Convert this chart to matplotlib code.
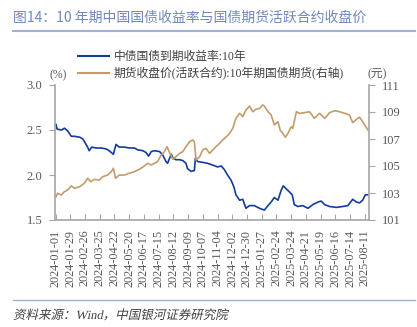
import numpy as np
import pandas as pd
import matplotlib
matplotlib.use("Agg")
import matplotlib.pyplot as plt
import matplotlib.dates as mdates
from matplotlib.lines import Line2D
from matplotlib.textpath import TextPath
from matplotlib.patches import PathPatch
from matplotlib.font_manager import FontProperties
from matplotlib.transforms import Affine2D, IdentityTransform

plt.rcParams['font.family'] = ['Liberation Serif', 'Noto Sans CJK SC', 'DejaVu Sans']

# 10Y China government bond yield (%)
yield_dates = ["2024-01-02", "2024-01-04", "2024-01-12", "2024-01-18", "2024-01-24", "2024-01-31",
               "2024-02-06", "2024-02-16", "2024-02-22", "2024-02-27", "2024-03-02", "2024-03-05",
               "2024-03-10", "2024-03-18", "2024-03-28", "2024-04-06", "2024-04-12", "2024-04-20",
               "2024-04-25", "2024-05-01", "2024-05-11", "2024-05-20", "2024-05-30", "2024-06-05",
               "2024-06-15", "2024-06-21", "2024-06-26", "2024-07-01", "2024-07-07", "2024-07-17",
               "2024-07-23", "2024-07-29", "2024-08-01", "2024-08-08", "2024-08-11", "2024-08-17",
               "2024-08-24", "2024-08-30", "2024-09-05", "2024-09-08", "2024-09-15", "2024-09-21",
               "2024-09-23", "2024-09-27", "2024-10-07", "2024-10-16", "2024-10-26", "2024-11-04",
               "2024-11-11", "2024-11-17", "2024-11-23", "2024-11-30", "2024-12-05", "2024-12-09",
               "2024-12-16", "2024-12-22", "2024-12-28", "2025-01-04", "2025-01-13", "2025-01-23",
               "2025-02-01", "2025-02-08", "2025-02-14", "2025-02-20", "2025-02-27", "2025-03-05",
               "2025-03-09", "2025-03-14", "2025-03-21", "2025-03-26", "2025-03-30", "2025-04-06",
               "2025-04-15", "2025-04-25", "2025-05-04", "2025-05-14", "2025-05-20", "2025-05-27",
               "2025-06-05", "2025-06-18", "2025-06-30", "2025-07-10", "2025-07-19", "2025-07-26",
               "2025-08-01", "2025-08-07", "2025-08-12", "2025-08-17"]
yield_vals = [2.56, 2.51, 2.50, 2.52, 2.49, 2.43,
              2.43, 2.42, 2.40, 2.35, 2.31, 2.27,
              2.31, 2.30, 2.30, 2.29, 2.27, 2.23,
              2.34, 2.31, 2.31, 2.30, 2.30, 2.28,
              2.27, 2.25, 2.21, 2.26, 2.27, 2.26,
              2.22, 2.15, 2.13, 2.23, 2.19, 2.17,
              2.17, 2.16, 2.13, 2.07, 2.04, 2.05,
              2.19, 2.15, 2.14, 2.13, 2.11, 2.09,
              2.10, 2.06, 2.00, 1.94, 1.87, 1.78,
              1.72, 1.73, 1.63, 1.66, 1.66, 1.63,
              1.61, 1.66, 1.70, 1.75, 1.72, 1.83,
              1.88, 1.85, 1.81, 1.78, 1.67, 1.65,
              1.66, 1.63, 1.67, 1.70, 1.71, 1.67,
              1.65, 1.64, 1.65, 1.66, 1.73, 1.70,
              1.69, 1.72, 1.78, 1.78]

# 10Y treasury futures, active contract close (CNY)
fut_dates = ["2024-01-02", "2024-01-05", "2024-01-12", "2024-01-18", "2024-01-24", "2024-01-31",
             "2024-02-06", "2024-02-16", "2024-02-25", "2024-03-02", "2024-03-08", "2024-03-15",
             "2024-03-24", "2024-03-31", "2024-04-09", "2024-04-16", "2024-04-20", "2024-04-24",
             "2024-05-01", "2024-05-11", "2024-05-20", "2024-05-30", "2024-06-08", "2024-06-18",
             "2024-06-24", "2024-07-01", "2024-07-07", "2024-07-13", "2024-07-20", "2024-07-26",
             "2024-07-31", "2024-08-04", "2024-08-11", "2024-08-17", "2024-08-24", "2024-08-30",
             "2024-09-05", "2024-09-12", "2024-09-18", "2024-09-21", "2024-09-24", "2024-10-01",
             "2024-10-07", "2024-10-13", "2024-10-20", "2024-10-26", "2024-11-01", "2024-11-08",
             "2024-11-14", "2024-11-21", "2024-11-27", "2024-12-03", "2024-12-09", "2024-12-16",
             "2024-12-22", "2024-12-28", "2025-01-04", "2025-01-10", "2025-01-16", "2025-01-23",
             "2025-01-29", "2025-02-01", "2025-02-08", "2025-02-14", "2025-02-20", "2025-02-27",
             "2025-03-03", "2025-03-08", "2025-03-13", "2025-03-18", "2025-03-24", "2025-03-27",
             "2025-04-03", "2025-04-09", "2025-04-18", "2025-04-28", "2025-05-07", "2025-05-17",
             "2025-05-27", "2025-06-05", "2025-06-15", "2025-06-24", "2025-07-04", "2025-07-13",
             "2025-07-19", "2025-07-26", "2025-08-01", "2025-08-07", "2025-08-13", "2025-08-17"]
fut_vals = [102.73, 102.98, 102.85, 103.10, 103.22, 103.52,
            103.35, 103.47, 103.72, 104.09, 103.84, 104.01,
            103.96, 104.21, 104.33, 104.58, 104.83, 104.09,
            104.33, 104.33, 104.46, 104.58, 104.75, 105.00,
            105.20, 105.07, 105.20, 105.32, 105.81, 106.06,
            106.43, 106.06, 105.50, 105.69, 105.94, 106.06,
            106.43, 106.80, 106.93, 106.80, 105.44, 105.69,
            106.19, 106.31, 105.94, 106.19, 106.43, 106.68,
            106.93, 107.17, 107.42, 107.79, 108.53, 108.90,
            108.65, 109.15, 109.44, 109.02, 109.20, 109.27,
            109.52, 109.44, 109.02, 108.78, 108.04, 108.28,
            107.67, 107.42, 107.13, 107.42, 107.91, 107.79,
            109.02, 108.90, 108.95, 109.02, 108.53, 108.90,
            108.53, 108.95, 109.10, 109.02, 108.90, 108.78,
            108.21, 108.46, 108.61, 108.28, 107.91, 107.67]

yield_label = "中债国债到期收益率:10年"
fut_label = "期货收盘价(活跃合约):10年期国债期货(右轴)"
title = "图14：10 年期中国国债收益率与国债期货活跃合约收盘价"
source = "资料来源：Wind，中国银河证券研究院"

blue = "#113c9e"
gold = "#c49c6c"
grey = "#595959"
spine_c = "#a6a6a6"

W, H = 417, 327
fig = plt.figure(figsize=(W / 100, H / 100), dpi=100)
ax = fig.add_axes([55 / W, 1 - 220 / H, (369 - 55) / W, (220 - 85) / H])
ax2 = ax.twinx()

ax.plot(pd.to_datetime(yield_dates), yield_vals, color=blue, lw=1.2)
ax2.plot(pd.to_datetime(fut_dates), fut_vals, color=gold, lw=1.2)

ax.set_ylim(1.5, 3.0)
ax.set_yticks([1.5, 2.0, 2.5, 3.0])
ax.yaxis.set_major_formatter(matplotlib.ticker.FormatStrFormatter('%.1f'))
ax2.set_ylim(101, 111)
ax2.set_yticks([101, 103, 105, 107, 109, 111])

ax.set_xlim(pd.Timestamp("2023-12-31"), pd.Timestamp("2025-08-19"))
xt = pd.date_range("2024-01-01", "2025-08-11", freq="28D")
ax.set_xticks(xt)
ax.xaxis.set_major_formatter(mdates.DateFormatter('%Y-%m-%d'))

for a in (ax, ax2):
    a.spines['top'].set_visible(False)
    for s in ('left', 'right', 'bottom'):
        a.spines[s].set_color(spine_c)
        a.spines[s].set_linewidth(1.2)
ax.spines['right'].set_visible(False)
ax2.spines['left'].set_visible(False)
ax2.spines['bottom'].set_visible(False)

ax.tick_params(axis='y', direction='out', length=4, color=spine_c, labelsize=9, labelcolor=grey, pad=5)
ax2.tick_params(axis='y', direction='out', length=4, color=spine_c, labelsize=9, labelcolor=grey, pad=5)
ax.tick_params(axis='x', direction='in', length=4, color=spine_c, labelsize=8.8, labelcolor=grey,
               pad=7, labelrotation=90)

# legend and unit labels above the plot
handles = [Line2D([], [], color=blue, lw=1.5), Line2D([], [], color=gold, lw=1.5)]
fig.legend(handles, [yield_label, fut_label], loc='upper left',
           bbox_to_anchor=(78 / W, 1 - 51 / H), frameon=False, fontsize=8.5,
           handlelength=2.6, handletextpad=0.4, labelspacing=0.35, borderpad=0, borderaxespad=0,
           labelcolor="#404040")
fig.text(50 / W, 1 - 75 / H, "(%)", fontsize=8.5, color=grey, va='center', ha='left')
fig.text(368 / W, 1 - 73 / H, "(元)", fontsize=8.5, color=grey, va='center', ha='left')

# header and footer
fig.text(13 / W, 1 - 18 / H, title, fontsize=10, color="#7088bd", va='center', ha='left',
         family=['Noto Sans CJK SC', 'DejaVu Sans'])
fig.add_artist(Line2D([13 / W, 415 / W], [1 - 31 / H, 1 - 31 / H], color="#9fb2d8", lw=1.5))
fig.add_artist(Line2D([13 / W, 415 / W], [1 - 300 / H, 1 - 300 / H], color="#9fb2d8", lw=1.0))

# slanted source line (CJK fonts have no italic face, so shear the glyph outlines)
fp = FontProperties(family=['Liberation Serif', 'Noto Sans CJK SC'])
src_path = TextPath((0, 0), source, size=9 * 100 / 72, prop=fp)
src_tf = Affine2D().skew_deg(12, 0).translate(13, H - 319) + IdentityTransform()
fig.add_artist(PathPatch(src_path, transform=src_tf, facecolor="#404040", edgecolor="none"))

fig.savefig("out.png", dpi=100)
